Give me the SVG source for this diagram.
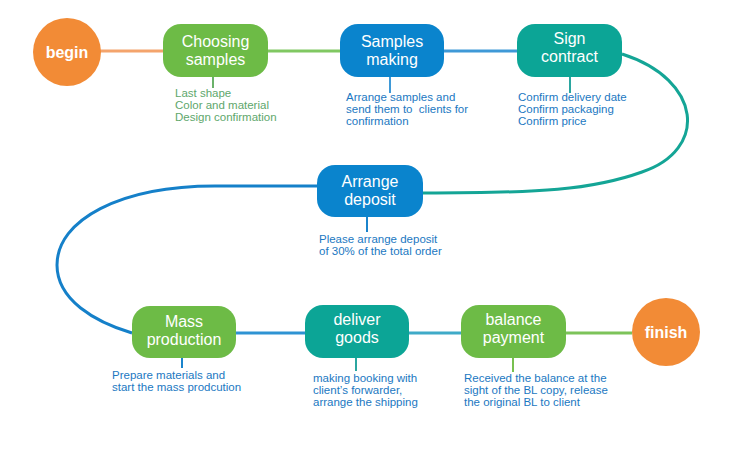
<svg xmlns="http://www.w3.org/2000/svg" width="750" height="460" viewBox="0 0 750 460">
<style>
.nt{font-family:"Liberation Sans",Arial,sans-serif;font-size:16px;fill:#fff;text-anchor:middle}
.ct{font-family:"Liberation Sans",Arial,sans-serif;font-size:16px;font-weight:bold;fill:#fff;text-anchor:middle}
.dt{font-family:"Liberation Sans",Arial,sans-serif;font-size:11.5px}
.db{fill:#1B78C2}
.dg{fill:#5EA76C}
.ln{fill:none;stroke-width:3}
.stem{fill:none;stroke-width:2}
</style>
<rect width="750" height="460" fill="#fff"/>
<g id="connectors">
<line class="ln" x1="100" y1="51" x2="163" y2="51" stroke="#F4A46C"/>
<line class="ln" x1="268" y1="51" x2="340" y2="51" stroke="#80C862"/>
<line class="ln" x1="444" y1="51" x2="517" y2="51" stroke="#3F99D7"/>
<path class="ln" d="M622,54 C703,80 708,150 642,172 C592,190 540,193 423,193" stroke="#14A596"/>
<path class="ln" d="M317,186 L215,186 C120,186 57,220 57,265 C57,300 95,322 132,333" stroke="#1580C9"/>
<line class="ln" x1="236" y1="333" x2="305" y2="333" stroke="#2E93D3"/>
<line class="ln" x1="409" y1="333" x2="461" y2="333" stroke="#3FAAC8"/>
<line class="ln" x1="566" y1="333" x2="632" y2="333" stroke="#7DC35A"/>
<line class="stem" x1="213" y1="77" x2="213" y2="88" stroke="#6BB26A"/>
<line class="stem" x1="390" y1="77" x2="390" y2="93" stroke="#3F99D7"/>
<line class="stem" x1="570" y1="77" x2="570" y2="93" stroke="#2BA6A0"/>
<line class="stem" x1="367" y1="217" x2="367" y2="232" stroke="#1B84CC"/>
<line class="stem" x1="182" y1="358" x2="182" y2="368" stroke="#1B84CC"/>
<line class="stem" x1="356" y1="358" x2="356" y2="371" stroke="#2BA6A0"/>
<line class="stem" x1="513" y1="358" x2="513" y2="372" stroke="#78C050"/>
</g>
<g id="begin">
<circle cx="67" cy="52" r="34" fill="#F28B36"/>
<text class="ct" x="67" y="58">begin</text>
</g>
<g id="choosing">
<rect x="163" y="24" width="105" height="53" rx="18" fill="#6DBB46"/>
<text class="nt" x="215.5" y="47">Choosing</text>
<text class="nt" x="215.5" y="65">samples</text>
<text class="dt dg" x="175" y="97">Last shape</text>
<text class="dt dg" x="175" y="109">Color and material</text>
<text class="dt dg" x="175" y="121">Design confirmation</text>
</g>
<g id="samples">
<rect x="340" y="24" width="104" height="53" rx="18" fill="#0A84CD"/>
<text class="nt" x="392" y="47">Samples</text>
<text class="nt" x="392" y="65">making</text>
<text class="dt db" x="346" y="101">Arrange samples and</text>
<text class="dt db" x="346" y="113" xml:space="preserve">send them to  clients for</text>
<text class="dt db" x="346" y="125">confirmation</text>
</g>
<g id="sign">
<rect x="517" y="24" width="105" height="53" rx="18" fill="#0CA596"/>
<text class="nt" x="569.5" y="44">Sign</text>
<text class="nt" x="569.5" y="62">contract</text>
<text class="dt db" x="518" y="101">Confirm delivery date</text>
<text class="dt db" x="518" y="113">Confirm packaging</text>
<text class="dt db" x="518" y="125">Confirm price</text>
</g>
<g id="deposit">
<rect x="317" y="165" width="106" height="52" rx="18" fill="#0A84CD"/>
<text class="nt" x="370" y="187">Arrange</text>
<text class="nt" x="370" y="205">deposit</text>
<text class="dt db" x="319" y="243">Please arrange deposit</text>
<text class="dt db" x="319" y="255">of 30% of the total order</text>
</g>
<g id="mass">
<rect x="132" y="306" width="104" height="52" rx="18" fill="#6DBB46"/>
<text class="nt" x="184" y="327">Mass</text>
<text class="nt" x="184" y="345">production</text>
<text class="dt db" x="112" y="379">Prepare materials and</text>
<text class="dt db" x="112" y="391">start the mass prodcution</text>
</g>
<g id="deliver">
<rect x="305" y="305" width="104" height="53" rx="18" fill="#0CA596"/>
<text class="nt" x="357" y="325">deliver</text>
<text class="nt" x="357" y="343">goods</text>
<text class="dt db" x="313" y="382">making booking with</text>
<text class="dt db" x="313" y="394">client’s forwarder,</text>
<text class="dt db" x="313" y="406">arrange the shipping</text>
</g>
<g id="balance">
<rect x="461" y="305" width="105" height="53" rx="18" fill="#6DBB46"/>
<text class="nt" x="513.5" y="325">balance</text>
<text class="nt" x="513.5" y="343">payment</text>
<text class="dt db" x="464" y="382">Received the balance at the</text>
<text class="dt db" x="464" y="394">sight of the BL copy, release</text>
<text class="dt db" x="464" y="406">the original BL to client</text>
</g>
<g id="finish">
<circle cx="666" cy="332" r="34" fill="#F28B36"/>
<text class="ct" x="666" y="338">finish</text>
</g>
</svg>
